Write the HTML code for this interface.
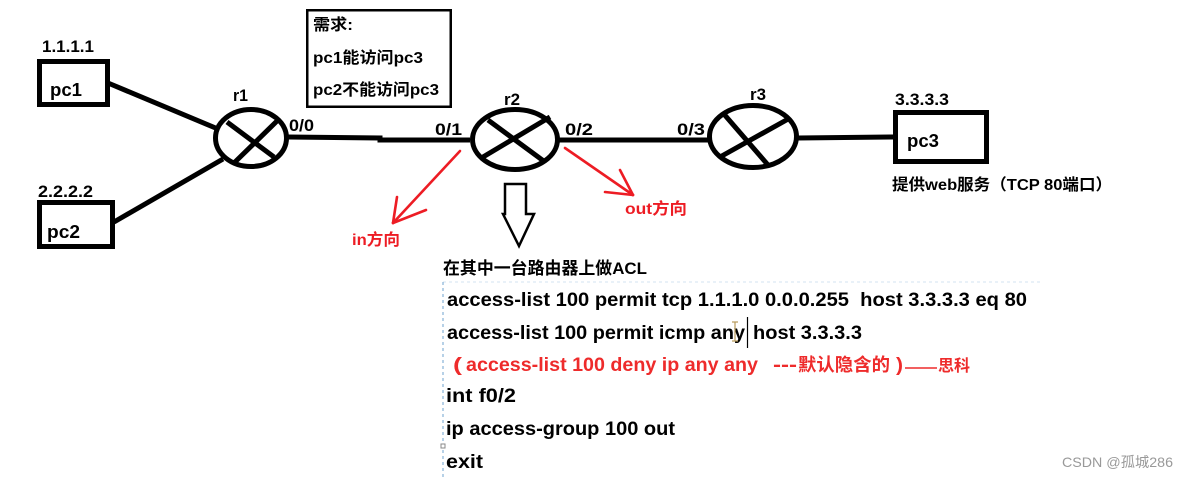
<!DOCTYPE html>
<html><head><meta charset="utf-8"><style>
html,body{margin:0;padding:0;background:#fff;}
svg{display:block;}
text{font-family:"Liberation Sans","Noto Sans CJK SC",sans-serif;font-weight:bold;white-space:pre;}
</style></head><body>
<svg width="1188" height="478" viewBox="0 0 1188 478" xmlns="http://www.w3.org/2000/svg">
<rect width="1188" height="478" fill="#fff"/>

<!-- PC boxes -->
<rect x="39.5" y="61.5" width="68" height="43" fill="none" stroke="#000" stroke-width="5"/>
<rect x="39.5" y="202.5" width="73" height="44" fill="none" stroke="#000" stroke-width="5"/>
<rect x="895.5" y="112.5" width="91" height="49" fill="none" stroke="#000" stroke-width="5"/>

<text x="42" y="52" font-size="17" textLength="52" lengthAdjust="spacingAndGlyphs">1.1.1.1</text>
<text x="50" y="96" font-size="18" textLength="32" lengthAdjust="spacingAndGlyphs">pc1</text>
<text x="38" y="197" font-size="17" textLength="55" lengthAdjust="spacingAndGlyphs">2.2.2.2</text>
<text x="47" y="238" font-size="18" textLength="33" lengthAdjust="spacingAndGlyphs">pc2</text>
<text x="895" y="105" font-size="17" textLength="54" lengthAdjust="spacingAndGlyphs">3.3.3.3</text>
<text x="907" y="147" font-size="18" textLength="32" lengthAdjust="spacingAndGlyphs">pc3</text>
<text x="892" y="190" font-size="16" textLength="220" lengthAdjust="spacingAndGlyphs">提供web服务（TCP 80端口）</text>

<!-- Links -->
<g stroke="#000" stroke-width="5" fill="none" stroke-linecap="butt">
<line x1="108" y1="83" x2="218" y2="129"/>
<line x1="114" y1="222" x2="223" y2="159"/>
<polyline points="288,137 380,138 380,140 470,140"/>
<line x1="559" y1="140" x2="708" y2="140"/>
<line x1="798" y1="138" x2="894" y2="137"/>
</g>

<!-- Routers -->
<g stroke="#000" stroke-width="5" fill="none">
<ellipse cx="251" cy="138" rx="35.5" ry="28.5"/>
<line x1="227" y1="122" x2="274" y2="157"/>
<line x1="277" y1="121" x2="235" y2="162"/>
<ellipse cx="515" cy="139.5" rx="42.5" ry="30"/>
<line x1="488" y1="120" x2="545" y2="162"/>
<line x1="550" y1="117" x2="483" y2="157"/>
<ellipse cx="753" cy="136.5" rx="43.5" ry="31"/>
<line x1="723" y1="113" x2="768" y2="165"/>
<line x1="790" y1="118" x2="720" y2="157"/>
</g>

<text x="233" y="101" font-size="17" textLength="15" lengthAdjust="spacingAndGlyphs">r1</text>
<text x="289" y="131" font-size="17" textLength="25" lengthAdjust="spacingAndGlyphs">0/0</text>
<text x="435" y="135" font-size="17" textLength="27" lengthAdjust="spacingAndGlyphs">0/1</text>
<text x="504" y="105" font-size="17" textLength="16" lengthAdjust="spacingAndGlyphs">r2</text>
<text x="565" y="135" font-size="17" textLength="28" lengthAdjust="spacingAndGlyphs">0/2</text>
<text x="677" y="135" font-size="17" textLength="28" lengthAdjust="spacingAndGlyphs">0/3</text>
<text x="750" y="100" font-size="17" textLength="16" lengthAdjust="spacingAndGlyphs">r3</text>

<!-- Requirement box -->
<rect x="307.25" y="10.25" width="143.5" height="96.5" fill="none" stroke="#000" stroke-width="2.5"/>
<text x="313" y="30" font-size="16" textLength="40" lengthAdjust="spacingAndGlyphs">需求:</text>
<text x="313" y="63" font-size="16" textLength="110" lengthAdjust="spacingAndGlyphs">pc1能访问pc3</text>
<text x="313" y="95" font-size="16" textLength="126" lengthAdjust="spacingAndGlyphs">pc2不能访问pc3</text>

<!-- Red arrows -->
<g stroke="#ed1c24" stroke-width="2.6" fill="none" stroke-linecap="round">
<line x1="460" y1="151" x2="393" y2="223"/>
<line x1="393" y1="223" x2="397" y2="197"/>
<line x1="393" y1="223" x2="426" y2="210"/>
<line x1="565" y1="148" x2="633" y2="195"/>
<line x1="633" y1="195" x2="620" y2="170"/>
<line x1="633" y1="195" x2="605" y2="192"/>
</g>
<text x="352" y="245" font-size="16" fill="#ed1c24" textLength="48" lengthAdjust="spacingAndGlyphs">in方向</text>
<text x="625" y="214" font-size="16" fill="#ed1c24" textLength="62" lengthAdjust="spacingAndGlyphs">out方向</text>

<!-- Hollow down arrow -->
<polygon points="505,184 526,184 526,214 534,214 519,246 503,214 505,214" fill="#fff" stroke="#000" stroke-width="2.5" stroke-linejoin="miter"/>

<!-- Dotted guide lines -->
<line x1="443" y1="282" x2="1040" y2="282" stroke="#d3e3f0" stroke-width="1" stroke-dasharray="3,3"/>
<line x1="443" y1="282" x2="443" y2="478" stroke="#6fa3cf" stroke-width="1" stroke-dasharray="3,3"/>
<rect x="441" y="444" width="4" height="4" fill="#fff" stroke="#888" stroke-width="1"/>

<!-- ACL text -->
<text x="443" y="274" font-size="17" textLength="204" lengthAdjust="spacingAndGlyphs">在其中一台路由器上做ACL</text>
<text x="447" y="306" font-size="19" textLength="580" lengthAdjust="spacingAndGlyphs">access-list 100 permit tcp 1.1.1.0 0.0.0.255  host 3.3.3.3 eq 80</text>
<text x="447" y="339" font-size="19" textLength="298" lengthAdjust="spacingAndGlyphs">access-list 100 permit icmp any</text>
<text x="753" y="339" font-size="19" textLength="109" lengthAdjust="spacingAndGlyphs">host 3.3.3.3</text>
<line x1="747.5" y1="317" x2="747.5" y2="348" stroke="#000" stroke-width="1.2"/>
<g stroke="#b89a5a" stroke-width="1.2" fill="none">
<line x1="735" y1="322" x2="735" y2="341"/>
<line x1="732" y1="322" x2="738" y2="322"/>
<line x1="732" y1="341" x2="738" y2="341"/>
</g>

<g fill="#ee2b2b">
<text x="453" y="371" font-size="19" textLength="9" lengthAdjust="spacingAndGlyphs">(</text>
<text x="466" y="371" font-size="19" textLength="292" lengthAdjust="spacingAndGlyphs">access-list 100 deny ip any any</text>
<text x="773" y="371" font-size="19" textLength="24" lengthAdjust="spacingAndGlyphs">---</text>
<text x="798" y="371" font-size="18" textLength="92" lengthAdjust="spacingAndGlyphs">默认隐含的</text>
<text x="896" y="371" font-size="19" textLength="7" lengthAdjust="spacingAndGlyphs">)</text>
<text x="938" y="371" font-size="16" textLength="32" lengthAdjust="spacingAndGlyphs">思科</text>
</g>
<line x1="905" y1="368" x2="937" y2="368" stroke="#ee2b2b" stroke-width="1.6"/>

<text x="446" y="402" font-size="19" textLength="70" lengthAdjust="spacingAndGlyphs">int f0/2</text>
<text x="446" y="435" font-size="19" textLength="229" lengthAdjust="spacingAndGlyphs">ip access-group 100 out</text>
<text x="446" y="468" font-size="19" textLength="37" lengthAdjust="spacingAndGlyphs">exit</text>

<!-- Watermark -->
<text x="1062" y="467" font-size="14" fill="#999" style="font-weight:normal" textLength="111" lengthAdjust="spacingAndGlyphs">CSDN @孤城286</text>
</svg>
</body></html>
